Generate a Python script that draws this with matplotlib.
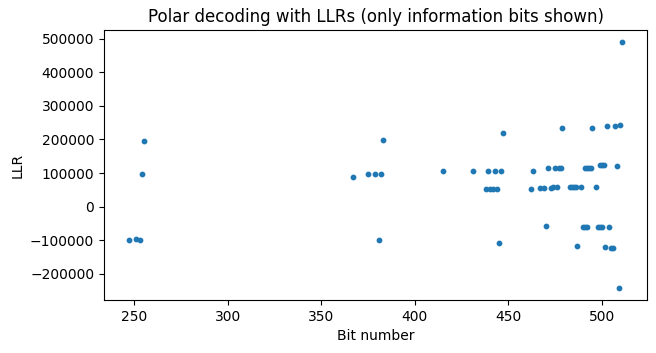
import matplotlib
matplotlib.use("Agg")
import matplotlib.pyplot as plt

# information bit indices and their LLRs
bits = [247, 251, 253, 254, 255,
        367, 375, 379, 381, 382, 383,
        415, 431, 438, 439, 440, 442, 443, 444, 445, 446, 447,
        462, 463, 467, 469, 470, 471, 473, 474, 475, 476, 477, 478, 479,
        483, 484, 485, 486, 487, 489,
        490, 491, 492, 491, 492, 493, 494, 495, 497,
        498, 499, 500, 499, 500, 501,
        502, 503, 504, 505, 506, 507, 508, 509, 510, 511]
llrs = [-98000, -95000, -98000, 98000, 194000,
        89000, 98000, 98000, -98000, 98000, 197000,
        107000, 107000, 54000, 107000, 54000, 54000, 107000, 54000, -107000, 107000, 218000,
        54000, 107000, 57000, 57000, -57000, 116000, 57000, 59000, 116000, 59000, 116000, 116000, 233000,
        60000, 60000, 60000, 60000, -116000, 60000,
        -60000, -60000, -60000, 116000, 116000, 116000, 116000, 235000, 60000,
        -60000, -60000, -60000, 123000, 123000, 123000,
        -119000, 241000, -60000, -122000, -122000, 241000, 122000, -241000, 244000, 489000]

fig = plt.figure(figsize=(6.56, 3.53), dpi=100)
ax = fig.add_axes([104 / 656, 1 - 300 / 353, 543 / 656, 270 / 353])
ax.scatter(bits, llrs, s=10)
ax.set_title("Polar decoding with LLRs (only information bits shown)")
ax.set_xlabel("Bit number")
ax.set_ylabel("LLR")
fig.savefig("out.png", dpi=100)
plt.close(fig)
